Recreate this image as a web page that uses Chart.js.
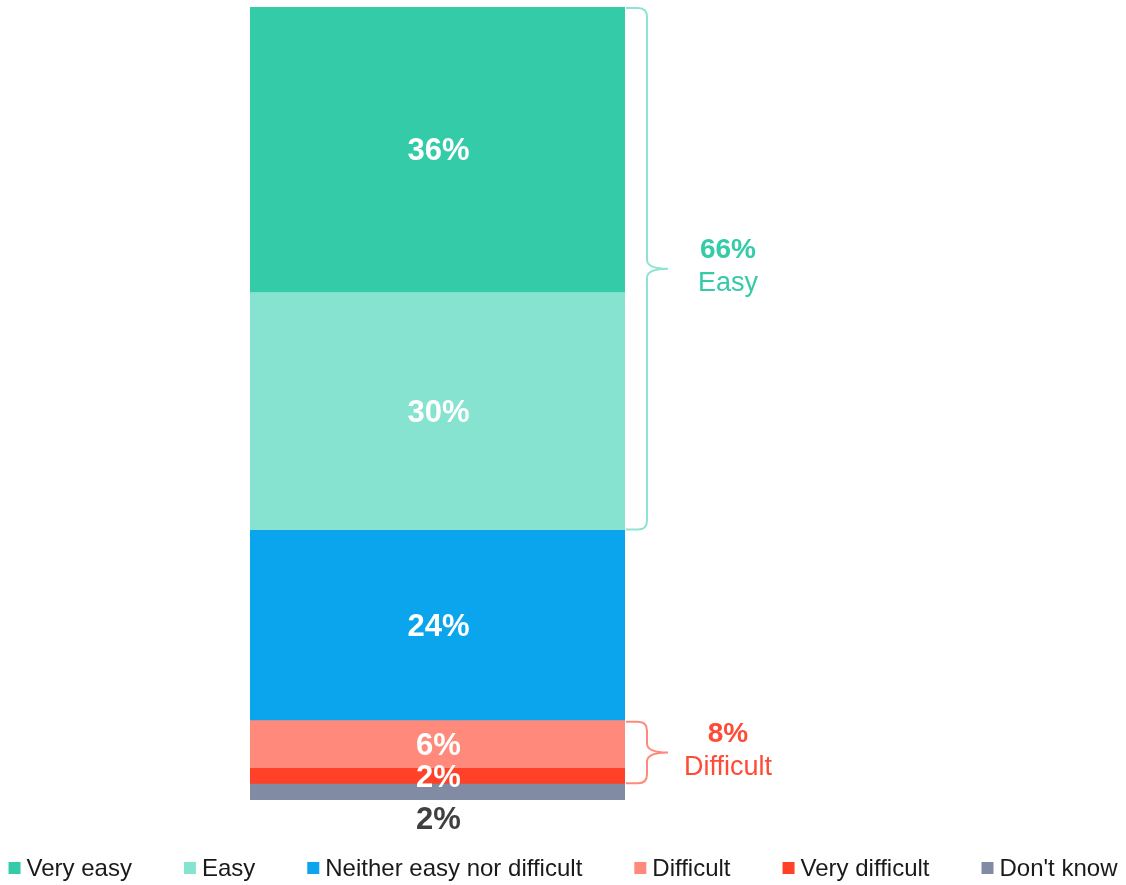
<!DOCTYPE html>
<html>
<head>
<meta charset="utf-8">
<script src="https://cdn.jsdelivr.net/npm/chart.js@4.4.1/dist/chart.umd.min.js"></script>
<style>
  html, body { margin: 0; padding: 0; background: #fff; }
  #wrap { width: 1126px; height: 885px; position: relative; }
</style>
</head>
<body>
<div id="wrap"><canvas id="chart"></canvas></div>
<script>
// Answer categories, top of the bar first (same order as the legend)
const categories = ['Very easy', 'Easy', 'Neither easy nor difficult', 'Difficult', 'Very difficult', "Don't know"];
const shares = [36, 30, 24, 6, 2, 2];

// Net groups shown with braces on the right
const groupNames = ['Easy', 'Difficult'];
const groupTotals = [66, 8];
const groupMembers = [[0, 1], [3, 4]];

const FONT = "'Liberation Sans', Arial, sans-serif";
const segColors = ['#33CBA8', '#86E3D0', '#0AA5EC', '#FF8A7C', '#FF4128', '#818BA3'];
const braceColors = ['#8EE3D1', '#FF8A7C'];
const groupTextColors = ['#33CBA8', '#FF4B36'];

// Stacked bars build from the first dataset upward, so feed them bottom-first
const datasets = categories.map((name, i) => ({
  label: name,
  data: [shares[i]],
  backgroundColor: segColors[i],
  borderWidth: 0,
  barPercentage: 1,
  categoryPercentage: 1,
})).reverse();

function segRange(chart, catIndex) {
  const dsIndex = categories.length - 1 - catIndex;
  const bar = chart.getDatasetMeta(dsIndex).data[0];
  return { top: Math.min(bar.y, bar.base), bottom: Math.max(bar.y, bar.base), x: bar.x, right: bar.x + bar.width / 2 };
}

const valueLabels = {
  id: 'valueLabels',
  afterDatasetsDraw(chart) {
    const ctx = chart.ctx;
    ctx.save();
    ctx.textAlign = 'center';
    ctx.textBaseline = 'middle';
    ctx.font = `bold 31px ${FONT}`;
    categories.forEach((name, i) => {
      const r = segRange(chart, i);
      const last = i === categories.length - 1;
      ctx.fillStyle = last ? '#404040' : '#FFFFFF';
      const y = last ? r.bottom + 20 : (r.top + r.bottom) / 2 + 2;
      ctx.fillText(`${shares[i]}%`, r.x + 1, y);
    });
    ctx.restore();
  }
};

// Curly braces + net totals for the grouped segments
const groupBraces = {
  id: 'groupBraces',
  afterDatasetsDraw(chart) {
    const ctx = chart.ctx;
    ctx.save();
    groupMembers.forEach((members, g) => {
      const first = segRange(chart, members[0]);
      const last = segRange(chart, members[members.length - 1]);
      const x0 = first.right + 1;
      const yT = first.top + 1;
      const yB = last.bottom - 1;
      const ym = (yT + yB) / 2;
      const xs = x0 + 21;
      const xt = x0 + 42;
      const r = Math.min(9, (yB - yT) / 6);

      ctx.strokeStyle = braceColors[g];
      ctx.lineWidth = 2;
      ctx.beginPath();
      ctx.moveTo(x0, yT);
      ctx.lineTo(xs - r, yT);
      ctx.quadraticCurveTo(xs, yT, xs, yT + r);
      ctx.lineTo(xs, ym - r);
      ctx.quadraticCurveTo(xs, ym, xt, ym);
      ctx.quadraticCurveTo(xs, ym, xs, ym + r);
      ctx.lineTo(xs, yB - r);
      ctx.quadraticCurveTo(xs, yB, xs - r, yB);
      ctx.lineTo(x0, yB);
      ctx.stroke();

      const cx = xt + 60;
      ctx.fillStyle = groupTextColors[g];
      ctx.textAlign = 'center';
      ctx.textBaseline = 'middle';
      ctx.font = `bold 28px ${FONT}`;
      ctx.fillText(`${groupTotals[g]}%`, cx, ym - 18);
      ctx.font = `27px ${FONT}`;
      ctx.fillText(groupNames[g], cx, ym + 15);
    });
    ctx.restore();
  }
};

// Legend row along the bottom, drawn by hand to keep the spacing tight
const bottomLegend = {
  id: 'bottomLegend',
  afterDraw(chart) {
    const ctx = chart.ctx;
    const box = 12, gap = 6, spacing = 52, y = 868;
    ctx.save();
    ctx.font = `24px ${FONT}`;
    const widths = categories.map(c => ctx.measureText(c).width);
    const total = widths.reduce((s, w) => s + box + gap + w, 0) + spacing * (categories.length - 1);
    let x = (chart.width - total) / 2;
    ctx.textBaseline = 'middle';
    ctx.textAlign = 'left';
    categories.forEach((c, i) => {
      ctx.fillStyle = segColors[i];
      ctx.fillRect(x, y - box / 2, box, box);
      ctx.fillStyle = '#1A1A1A';
      ctx.fillText(c, x + box + gap, y + 1);
      x += box + gap + widths[i] + spacing;
    });
    ctx.restore();
  }
};

new Chart(document.getElementById('chart'), {
  type: 'bar',
  data: { labels: [''], datasets },
  options: {
    responsive: true,
    maintainAspectRatio: false,
    animation: false,
    layout: { padding: { top: 7, bottom: 85, left: 250, right: 501 } },
    plugins: {
      legend: { display: false },
      tooltip: { enabled: false },
    },
    scales: {
      x: { stacked: true, display: false },
      y: { stacked: true, display: false, min: 0, max: 100 },
    },
  },
  plugins: [valueLabels, groupBraces, bottomLegend],
});
</script>
</body>
</html>
